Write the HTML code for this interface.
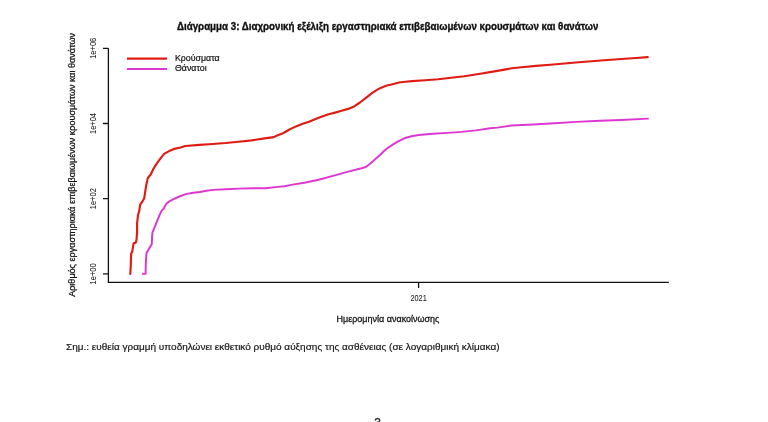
<!DOCTYPE html>
<html><head><meta charset="utf-8"><title>Διάγραμμα 3</title>
<style>
html,body{margin:0;padding:0;background:#fff;width:768px;height:422px;overflow:hidden}
svg{display:block}
text{font-family:"Liberation Sans","DejaVu Sans",sans-serif}
</style></head><body>
<svg width="768" height="422" viewBox="0 0 768 422">
<rect width="768" height="422" fill="#fff"/>
<text x="177" y="29.6" font-size="10.0" font-weight="bold" fill="#111" stroke="#111" stroke-width="0.35" textLength="421.5" lengthAdjust="spacingAndGlyphs">Διάγραμμα 3: Διαχρονική εξέλιξη εργαστηριακά επιβεβαιωμένων κρουσμάτων και θανάτων</text>
<text transform="translate(74.8,296.8) rotate(-90)" x="0" y="0" font-size="9.04" fill="#151515" stroke="#151515" stroke-width="0.28">Αριθμός εργαστηριακά επιβεβαιωμένων κρουσμάτων και θανάτων</text>
<g font-size="8.3" fill="#151515" stroke="#151515" stroke-width="0.05" text-anchor="middle">
<text transform="translate(95.6,48.3) rotate(-90)" textLength="21" lengthAdjust="spacingAndGlyphs">1e+06</text>
<text transform="translate(95.6,123.5) rotate(-90)" textLength="21" lengthAdjust="spacingAndGlyphs">1e+04</text>
<text transform="translate(95.6,198.7) rotate(-90)" textLength="21" lengthAdjust="spacingAndGlyphs">1e+02</text>
<text transform="translate(95.6,273.9) rotate(-90)" textLength="21" lengthAdjust="spacingAndGlyphs">1e+00</text>
<text x="418.6" y="301" textLength="16.4" lengthAdjust="spacingAndGlyphs">2021</text>
</g>
<g stroke="#111" stroke-width="1.3" fill="none" stroke-linecap="butt">
<path d="M108.4 48.3 V282.4 H668.8"/>
<path d="M103 48.3 H108.4 M103 123.5 H108.4 M103 198.7 H108.4 M103 273.9 H108.4 M418.6 282.4 V288"/>
</g>
<text x="388" y="322" font-size="9.0" fill="#151515" stroke="#151515" stroke-width="0.28" text-anchor="middle">Ημερομηνία ανακοίνωσης</text>
<g fill="none" stroke-linejoin="round" stroke-linecap="round">
<polyline points="142.8,273.9 145.6,273.8 145.8,263.1 146.5,253 148,250.5 150.6,246.1 151.8,244.2 152.1,236.4 152.5,232.4 155.6,224.8 157.5,220.1 159.4,215.4 161.7,210.6 163.6,208.7 165.1,205.9 167,203 169.8,201.1 173.6,199.2 178.2,197 185.7,194.1 193.2,192.8 199.8,192 206.5,190.8 213,189.9 226,189.2 239,188.6 252.1,188.3 265.1,188.2 278.1,186.9 284.6,186.2 291.1,184.9 304.3,182.7 318.7,179.8 333,175.9 347.3,171.9 361.6,168.3 365.9,166.9 373.1,161.2 376,158.4 380.3,154.7 384,151 387.4,148.3 393.1,144.4 397.2,141.9 404.3,138.3 411.5,136.2 418.7,135 433,133.7 447.3,132.9 461.6,131.9 476,130.4 490.3,128.3 497.2,127.6 504.3,126.6 511.5,125.5 533,124.5 554.5,123.2 576,121.9 600,120.7 621.25,120 647.8,118.6" stroke="#de36d2" stroke-width="1.95"/>
<polyline points="130.3,274 130.8,265.1 131.1,254.2 132.2,251.5 132.9,247.7 133.6,243.3 135.5,242.8 136.5,240 137.1,232.4 137.1,223.1 138.1,214.5 139.1,211.7 140.2,204.6 143.1,200.3 144.2,198.2 145.2,191.8 146.3,184.7 147.3,180.4 147.8,178 150.7,174.5 153.5,168.8 157,163.1 161.3,157.4 164.1,153.9 169.1,151.1 174.1,148.9 180.5,147.5 185.2,146 199.5,144.9 212.6,144 225.6,143 238.6,141.7 251.6,140.4 264.6,138.4 273.75,137.1 276.5,135.8 283,133.2 289.5,129.5 296,126.4 302.6,123.8 309,121.7 315.6,119.1 322,116.5 328.6,114.3 335.1,112.6 341.6,110.8 348.1,108.9 354.6,106.2 360,102.5 366.5,97.3 373,92.3 379.5,88.4 386,85.8 392.6,84.2 399,82.5 405.6,81.7 412,81.1 425.1,80.2 438.1,79.3 451.1,77.8 464.3,76.2 478.7,74 493,71.6 507.3,69.1 511.6,68.3 521.6,67.3 536,65.9 550.3,64.7 578.7,62.2 607.3,60 636,58 647.7,57.1" stroke="#e01c12" stroke-width="2.15"/>
<path d="M126.9 58.6 H167" stroke="#e01c12" stroke-width="2.15" stroke-linecap="butt"/>
<path d="M126.9 68.9 H167" stroke="#de36d2" stroke-width="1.95" stroke-linecap="butt"/>
</g>
<g font-size="8.8" fill="#151515" stroke="#151515" stroke-width="0.22">
<text x="175" y="61.2">Κρούσματα</text>
<text x="175" y="70.8">Θάνατοι</text>
</g>
<text x="66" y="349.9" font-size="9.6" fill="#1a1a1a" stroke="#1a1a1a" stroke-width="0.2" textLength="433.5" lengthAdjust="spacingAndGlyphs">Σημ.: ευθεία γραμμή υποδηλώνει εκθετικό ρυθμό αύξησης της ασθένειας (σε λογαριθμική κλίμακα)</text>
<text x="374.3" y="427" font-size="12" fill="#333" stroke="#333" stroke-width="0.4">3</text>
</svg>
</body></html>
